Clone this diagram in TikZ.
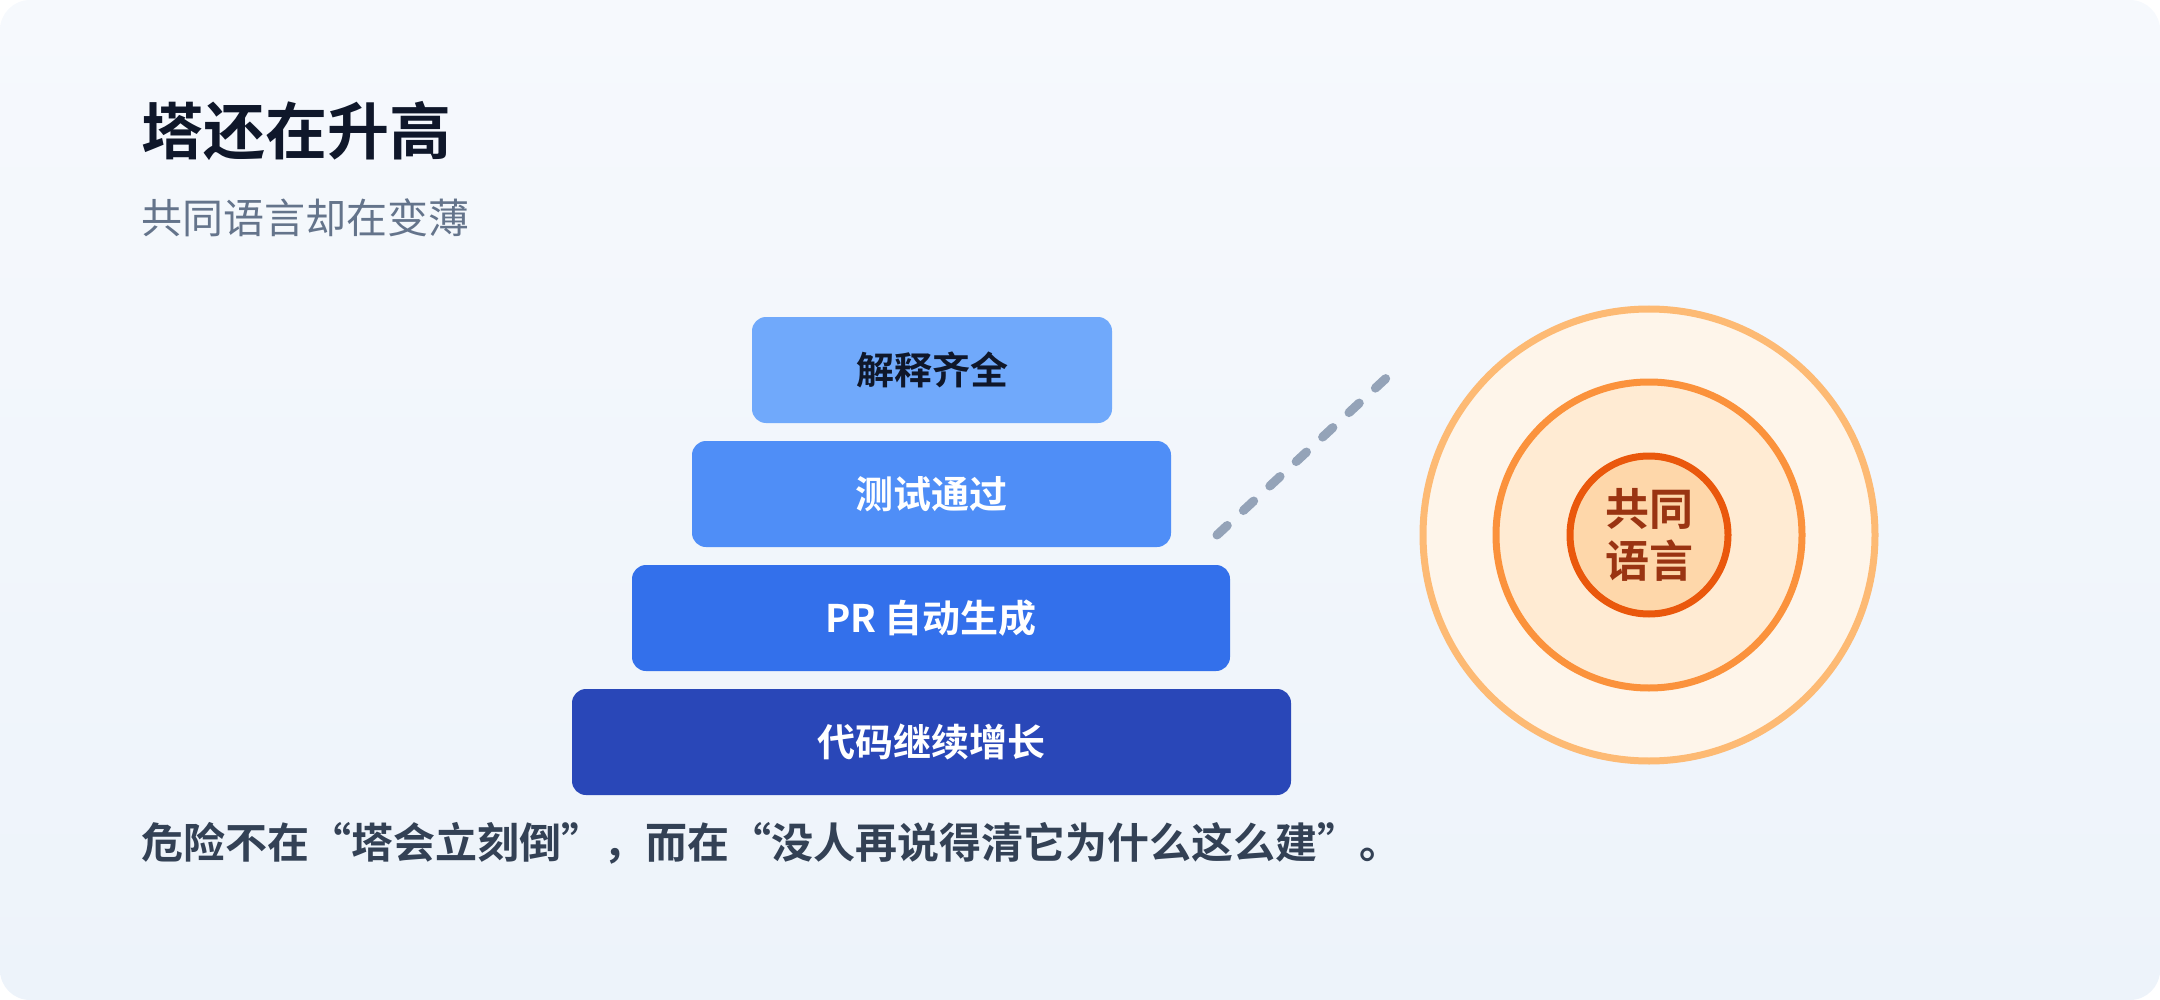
\documentclass[tikz,border=0pt]{standalone}
\usepackage{fontspec}
\setmainfont{Noto Sans CJK SC}
\newfontfamily\cjkb{Noto Sans CJK SC Bold}
\begin{document}
\begin{tikzpicture}[x=1pt,y=-1pt,
 tier/.style={rounded corners=14pt,font=\cjkb\fontsize{38}{44}\selectfont,text=white},
 ring/.style={circle,line width=7pt}]
\definecolor{bgA}{HTML}{F6F9FD}\definecolor{bgB}{HTML}{EDF3FA}
\definecolor{t1}{HTML}{70A9FB}\definecolor{t2}{HTML}{4F8EF7}\definecolor{t3}{HTML}{3370EB}\definecolor{t4}{HTML}{2947B8}
\definecolor{ink}{HTML}{0F172A}\definecolor{sub}{HTML}{64748B}\definecolor{body}{HTML}{334155}
\useasboundingbox (0,0) rectangle (2160,1000);
\shade[rounded corners=30pt,top color=bgA,bottom color=bgB] (0,0) rectangle (2160,1000);
\node[anchor=west,text=ink,font=\cjkb\fontsize{62}{70}\selectfont] (title) at (138,131) {塔还在升高};
\node[anchor=west,text=sub,font=\fontsize{41}{48}\selectfont] (sub) at (138,218) {共同语言却在变薄};
\fill[t1,rounded corners=14pt] (752,317) rectangle (1112,423);
\node[tier,text=ink] (a) at (932,370) {解释齐全};
\fill[t2,rounded corners=14pt] (692,441) rectangle (1171,547);
\node[tier] (b) at (931,494) {测试通过};
\fill[t3,rounded corners=14pt] (632,565) rectangle (1230,671);
\node[tier] (c) at (931,618) {PR 自动生成};
\fill[t4,rounded corners=14pt] (572,689) rectangle (1291,795);
\node[tier] (d) at (931,742) {代码继续增长};
\coordinate (p1) at (1217,535); \coordinate (p2) at (1396,369);
\draw[color={rgb,255:red,148;green,163;blue,184},line width=9pt,line cap=round,dash pattern=on 14pt off 22pt] (p1) -- (p2);
\node[ring,draw={rgb,255:red,253;green,186;blue,116},fill={rgb,255:red,254;green,245;blue,234},minimum size=452pt] (o) at (1649,535) {};
\node[ring,draw={rgb,255:red,251;green,146;blue,60},fill={rgb,255:red,255;green,235;blue,211},minimum size=306pt] (m) at (1649,535) {};
\node[ring,draw={rgb,255:red,234;green,88;blue,12},fill={rgb,255:red,254;green,215;blue,170},minimum size=158pt] (i) at (1649,535) {};
\node[align=center,text={rgb,255:red,154;green,52;blue,18},font=\cjkb\fontsize{44}{52}\selectfont] (lbl) at (1649,535) {共同\\语言};
\node[anchor=west,text=body,font=\cjkb\fontsize{42}{50}\selectfont] (foot) at (138,843) {危险不在“塔会立刻倒”，而在“没人再说得清它为什么这么建”。};
\end{tikzpicture}
\end{document}
